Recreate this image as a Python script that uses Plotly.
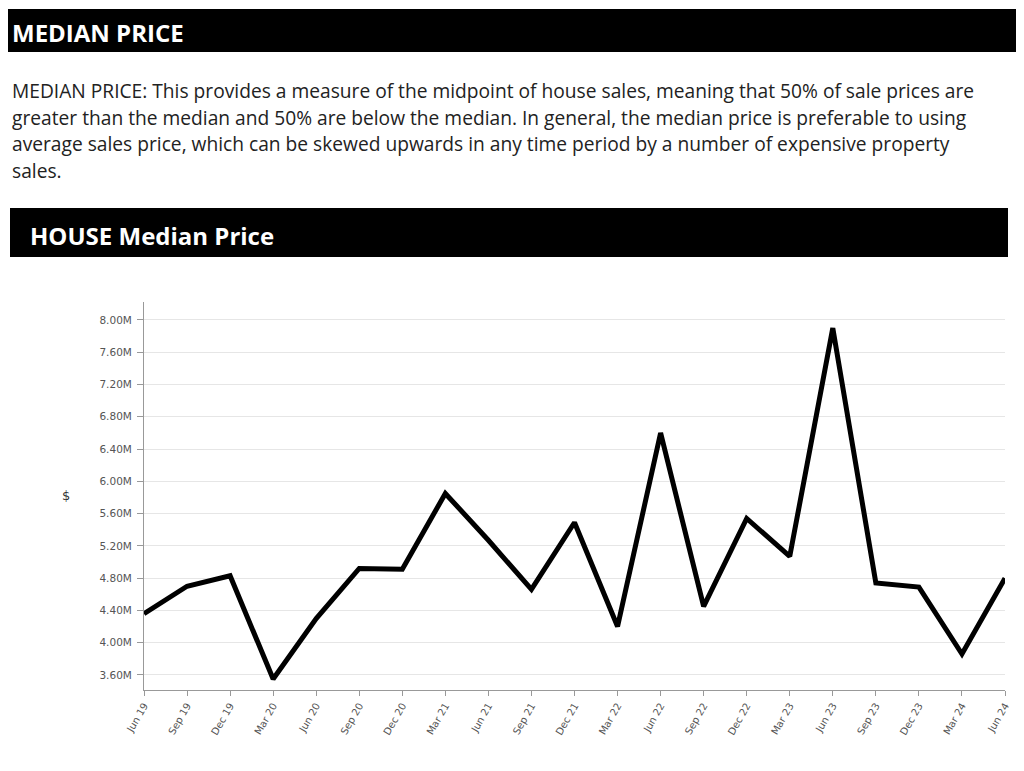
import plotly.graph_objects as go

# quarterly labels and median house price (millions of $)
quarters = ["Jun 19", "Sep 19", "Dec 19", "Mar 20", "Jun 20", "Sep 20", "Dec 20",
            "Mar 21", "Jun 21", "Sep 21", "Dec 21", "Mar 22", "Jun 22", "Sep 22",
            "Dec 22", "Mar 23", "Jun 23", "Sep 23", "Dec 23", "Mar 24", "Jun 24"]
median_price = [4.36, 4.70, 4.83, 3.55, 4.30, 4.92, 4.91,
                5.85, 5.27, 4.66, 5.49, 4.20, 6.60, 4.45,
                5.54, 5.07, 7.90, 4.74, 4.69, 3.86, 4.80]

section_title = "MEDIAN PRICE"
chart_title = "HOUSE Median Price"
body_lines = [
    "MEDIAN PRICE: This provides a measure of the midpoint of house sales, meaning that 50% of sale prices are",
    "greater than the median and 50% are below the median. In general, the median price is preferable to using",
    "average sales price, which can be skewed upwards in any time period by a number of expensive property",
    "sales.",
]

OFF = 8                            # page body margin
W, H = 1024 - 2 * OFF, 771 - 2 * OFF
L, R, T, B = 144, 1005, 302, 690   # plot area in screen pixels


def px(x):
    return (x - L) / (R - L)


def py(y):
    return (B - y) / (B - T)


fig = go.Figure()
fig.add_trace(go.Scatter(x=quarters, y=median_price, mode="lines",
                         line=dict(color="black", width=5),
                         hoverinfo="x+y"))

shapes = [
    dict(type="rect", xref="paper", yref="paper", x0=px(8), x1=px(1022),
         y0=py(52), y1=py(9), fillcolor="black", line=dict(width=0), layer="above"),
    dict(type="rect", xref="paper", yref="paper", x0=px(10), x1=px(1008),
         y0=py(257), y1=py(208), fillcolor="black", line=dict(width=0), layer="above"),
]

annotations = [
    dict(text=section_title, xref="paper", yref="paper", x=px(10), y=py(32),
         xanchor="left", yanchor="middle", showarrow=False,
         font=dict(family="Open Sans", size=24, color="white", weight="bold")),
    dict(text=chart_title, xref="paper", yref="paper", x=px(28), y=py(235),
         xanchor="left", yanchor="middle", showarrow=False,
         font=dict(family="Open Sans", size=24, color="white", weight="bold")),
    dict(text="$", xref="paper", yref="paper", x=px(66), y=py(495),
         xanchor="center", yanchor="middle", showarrow=False,
         font=dict(family="DejaVu Sans", size=13, color="#333")),
]
for i, line in enumerate(body_lines):
    annotations.append(dict(text=line, xref="paper", yref="paper", x=px(10),
                            y=py(91 + i * 26.5), xanchor="left", yanchor="middle",
                            showarrow=False,
                            font=dict(family="Open Sans", size=19.2, color="#222")))

fig.update_layout(
    width=W, height=H,
    margin=dict(l=L - OFF, r=W + OFF - R, t=T - OFF, b=H + OFF - B),
    paper_bgcolor="white", plot_bgcolor="white",
    showlegend=False,
    shapes=shapes,
    annotations=annotations,
    xaxis=dict(type="category", range=[0, 20], showgrid=False, automargin=False,
               showline=True, linecolor="#999", linewidth=1,
               ticks="outside", ticklen=5, tickcolor="#999",
               tickangle=-60, tickfont=dict(family="DejaVu Sans", size=10, color="#555")),
    yaxis=dict(range=[3.414, 8.223], dtick=0.4, tick0=0, tickformat=".2f", ticksuffix="M",
               showgrid=True, gridcolor="#e6e6e6", gridwidth=1, zeroline=False,
               automargin=False,
               showline=True, linecolor="#999", linewidth=1,
               ticks="outside", ticklen=6, tickcolor="#999", ticklabelstandoff=3,
               tickfont=dict(family="DejaVu Sans", size=10.5, color="#555")),
)

fig.write_html("out.html")
